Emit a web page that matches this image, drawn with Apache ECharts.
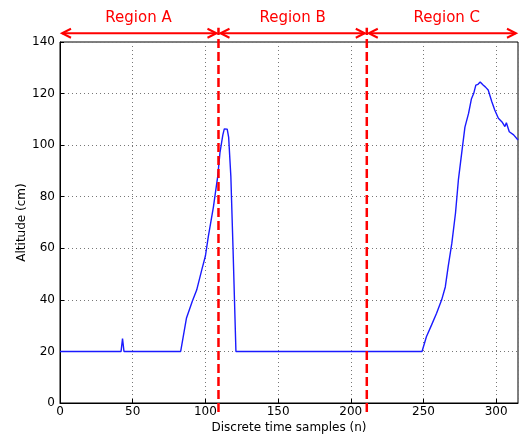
<!DOCTYPE html>
<html>
<head>
<meta charset="utf-8">
<script src="https://cdn.jsdelivr.net/npm/echarts@6/dist/echarts.min.js"></script>
<style>
html,body{margin:0;padding:0;background:#fff;}
#chart{width:519px;height:434px;}
</style>
</head>
<body>
<div id="chart"></div>
<script>
// ---- data ----
var sampleN = [0, 42, 43, 44, 83, 87, 91, 94, 97.5, 100, 102, 105.5, 108.5, 110, 112, 113, 114, 115, 116, 117.5, 119, 121,
  249, 252, 255.5, 259, 262.5, 265, 267, 269.5, 272, 274, 276.5, 278.5, 281, 283, 284.5, 286, 287.5, 289, 291, 292.5, 294.5,
  297, 299, 301.5, 304, 306, 307, 309, 312, 315];
var altitudeCm = [20, 20, 25, 20, 20, 33, 39.5, 43.8, 51.6, 57, 64.5, 76, 88, 97, 104, 106.3, 107, 106.2, 103, 88, 60, 20,
  20, 25.7, 30.2, 34.8, 40, 45, 53, 62, 73.6, 86.5, 98, 107, 112.3, 118, 120, 123.3, 123.6, 124.5, 123.3, 122.6, 121.4,
  116.8, 113.6, 110.4, 109, 107.2, 108.7, 105.2, 104, 102];

var xTicks = [0, 50, 100, 150, 200, 250, 300];
var yTicks = [0, 20, 40, 60, 80, 100, 120, 140];

var dividerX = [109, 211];
var dividerYRange = [-3.5, 145.5];

var regionNames = ['Region A', 'Region B', 'Region C'];
var regionStart = [0, 109, 211];
var regionEnd = [109, 211, 315];
var regionArrowY = [143.4, 143.4, 143.4];
var regionLabelX = [54, 160, 266];
var regionLabelY = [149.3, 149.3, 149.3];

// ---- build ----
var lineData = sampleN.map(function (n, i) { return [n, altitudeCm[i]]; });
var arrowData = regionNames.map(function (nm, i) {
  return [regionStart[i], regionEnd[i], regionArrowY[i], regionLabelX[i], regionLabelY[i], nm];
});

var RED = '#ff0000';
var chart = echarts.init(document.getElementById('chart'), null, {renderer: 'canvas'});

var series = [{
  type: 'line',
  data: lineData,
  symbol: 'none',
  smooth: false,
  lineStyle: {color: '#1a1aff', width: 1.4},
  z: 3
}];

dividerX.forEach(function (x) {
  series.push({
    type: 'line',
    data: [[x, dividerYRange[0]], [x, dividerYRange[1]]],
    symbol: 'none',
    clip: false,
    lineStyle: {color: RED, width: 2.5, type: [9, 4]},
    z: 4
  });
});

series.push({
  type: 'custom',
  data: arrowData,
  clip: false,
  encode: {x: 0, y: 2},
  z: 5,
  renderItem: function (params, api) {
    var x0 = api.value(0), x1 = api.value(1), y = api.value(2);
    var lx = api.value(3), ly = api.value(4);
    var name = arrowData[params.dataIndex][5];
    var p0 = api.coord([x0, y]);
    var p1 = api.coord([x1, y]);
    var l = api.coord([lx, ly]);
    var a = p0[0] + 2, b = p1[0] - 2, yy = p0[1];
    var st = {stroke: RED, lineWidth: 2, fill: null};
    var hl = 9, hw = 4.5;
    return {
      type: 'group',
      children: [
        {type: 'line', shape: {x1: a, y1: yy, x2: b, y2: yy}, style: st},
        {type: 'polyline', shape: {points: [[a + hl, yy - hw], [a, yy], [a + hl, yy + hw]]}, style: st},
        {type: 'polyline', shape: {points: [[b - hl, yy - hw], [b, yy], [b - hl, yy + hw]]}, style: st},
        {type: 'text', x: l[0], y: l[1], style: {
          text: name, fill: RED, font: '15px "DejaVu Sans"', align: 'center', verticalAlign: 'middle'
        }}
      ]
    };
  }
});

var axisLabelStyle = {color: '#000', fontFamily: 'DejaVu Sans', fontSize: 12};

chart.setOption({
  animation: false,
  backgroundColor: '#fff',
  grid: {left: 60, top: 42, width: 458, height: 361, containLabel: false, outerBoundsMode: 'none',
    show: true, borderColor: '#000', borderWidth: 1, backgroundColor: 'transparent'},
  xAxis: {
    type: 'value', min: 0, max: 315, interval: 50,
    name: 'Discrete time samples (n)', nameLocation: 'middle', nameGap: 18.5, nameMoveOverlap: false,
    nameTextStyle: {color: '#000', fontFamily: 'DejaVu Sans', fontSize: 12},
    axisLine: {show: true, lineStyle: {color: '#000', width: 1}},
    axisTick: {show: true, inside: true, length: 4, lineStyle: {color: '#000'}},
    axisLabel: Object.assign({margin: 3, showMaxLabel: false, formatter: function (v) { return xTicks.indexOf(v) >= 0 ? String(v) : ''; }}, axisLabelStyle),
    splitLine: {show: true, lineStyle: {color: '#777', width: 1, type: [1, 3]}}
  },
  yAxis: {
    type: 'value', min: 0, max: 140, interval: 20,
    name: 'Altitude (cm)', nameLocation: 'middle', nameGap: 32, nameMoveOverlap: false,
    nameTextStyle: {color: '#000', fontFamily: 'DejaVu Sans', fontSize: 12},
    axisLine: {show: true, lineStyle: {color: '#000', width: 1}},
    axisTick: {show: true, inside: true, length: 4, lineStyle: {color: '#000'}},
    axisLabel: Object.assign({margin: 5, formatter: function (v) { return yTicks.indexOf(v) >= 0 ? String(v) : ''; }}, axisLabelStyle),
    splitLine: {show: true, lineStyle: {color: '#777', width: 1, type: [1, 3]}}
  },
  series: series
});
</script>
</body>
</html>
